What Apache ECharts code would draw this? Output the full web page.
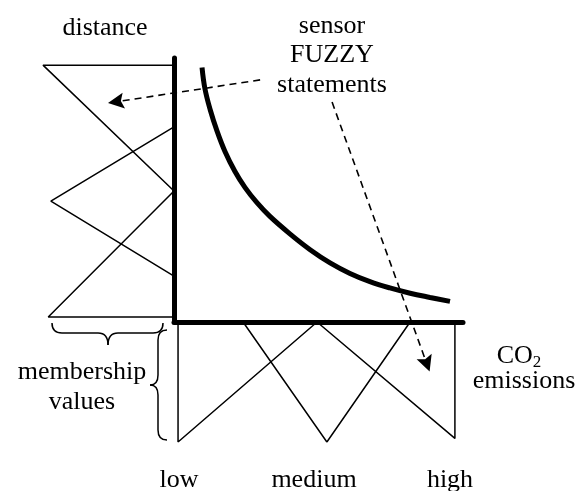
<!DOCTYPE html>
<html>
<head>
<meta charset="utf-8">
<script src="https://cdn.jsdelivr.net/npm/echarts@6/dist/echarts.min.js"></script>
<style>
  html, body { margin: 0; padding: 0; background: #fff; }
  #chart { width: 586px; height: 491px; }
</style>
</head>
<body>
<div id="chart"></div>
<script>
// sensor curve: [co2, distance]
const curve = [
  [9.7, 96.4], [10.7, 88.4], [12.5, 80.5], [14.9, 72.3], [17.6, 64.7],
  [21.1, 57.0], [24.6, 50.9], [28.7, 45.2], [33.2, 40.0], [40.1, 33.4],
  [47.1, 27.4], [54.0, 22.4], [60.9, 18.4], [67.8, 15.3], [74.7, 12.9],
  [81.7, 10.9], [88.6, 9.3], [95.5, 7.8]
]
// distance fuzzy sets: [membership, distance]
const distHigh = [[0, 97.3], [1.0, 97.3], [0, 49.6]]
const distMedium = [[0, 73.9], [0.94, 45.8], [0, 17.4]]
const distLow = [[0, 49.6], [0.96, 1.9], [0, 1.9]]
// CO2 fuzzy sets: [co2, membership]
const co2Low = [[1.4, 0], [1.4, 1], [49.5, 0]]
const co2Medium = [[23.9, 0], [52.9, 1], [81.7, 0]]
const co2High = [[49.5, 0], [97.2, 0.97], [97.2, 0]]
// dashed arrows from the text to the two sets of statements
const arrows = [
  [[29.8, 91.7], [-20.1, 83.4]],
  [[54.7, 83.3], [87.5, -15.9]],
]
const co2Labels = ['low', 'medium', 'high']

const font = '"Liberation Serif", "DejaVu Serif", serif'
const chart = echarts.init(document.getElementById('chart'), null, { renderer: 'canvas' })

const thin = (name, data, x, y) => ({
  name,
  type: 'line',
  xAxisIndex: x,
  yAxisIndex: y,
  data,
  symbol: 'none',
  lineStyle: { color: '#000', width: 1.5 },
  silent: true,
})

const txt = (text, x, y, extra) => ({
  type: 'text',
  x,
  y,
  style: Object.assign({
    text,
    font: '26px ' + font,
    fill: '#000',
    align: 'center',
    verticalAlign: 'middle',
  }, extra || {}),
})

const braceStyle = { stroke: '#000', lineWidth: 1.5, fill: null }
const seg = (x1, y1, x2, y2) => ({ type: 'line', shape: { x1, y1, x2, y2 }, style: braceStyle })
const bend = (x1, y1, cpx1, cpy1, x2, y2) => ({
  type: 'bezierCurve', shape: { x1, y1, cpx1, cpy1, x2, y2 }, style: braceStyle,
})

// curly braces next to the membership axes
const braces = {
  type: 'group',
  children: [
    bend(52, 323, 52, 333, 62, 333), seg(62, 333, 98, 333),
    bend(98, 333, 108, 333, 108, 345), bend(108, 345, 108, 333, 118, 333),
    seg(118, 333, 153, 333), bend(153, 333, 163, 333, 163, 323),
    bend(167, 330, 158, 330, 158, 340), seg(158, 340, 158, 375),
    bend(158, 375, 158, 385, 150, 385), bend(150, 385, 158, 385, 158, 395),
    seg(158, 395, 158, 430), bend(158, 430, 158, 440, 167, 440),
  ],
}

chart.setOption({
  animation: false,
  backgroundColor: '#fff',
  grid: [
    { left: 174, top: 58, width: 289, height: 264 },
    { left: 43, top: 58, width: 131, height: 264 },
    { left: 174, top: 322, width: 289, height: 120 },
  ],
  xAxis: [
    {
      gridIndex: 0, type: 'value', min: 0, max: 100,
      axisLine: { show: true, lineStyle: { color: '#000', width: 5 } },
      axisTick: { show: false }, axisLabel: { show: false }, splitLine: { show: false },
    },
    { gridIndex: 1, type: 'value', min: 0, max: 1, inverse: true, show: false },
    { gridIndex: 2, type: 'value', min: 0, max: 100, show: false },
  ],
  yAxis: [
    {
      gridIndex: 0, type: 'value', min: 0, max: 100,
      axisLine: { show: true, lineStyle: { color: '#000', width: 5 } },
      axisTick: { show: false }, axisLabel: { show: false }, splitLine: { show: false },
    },
    { gridIndex: 1, type: 'value', min: 0, max: 100, show: false },
    { gridIndex: 2, type: 'value', min: 0, max: 1, inverse: true, show: false },
  ],
  series: [
    {
      name: 'sensor',
      type: 'line',
      data: curve,
      smooth: 0.4,
      symbol: 'none',
      lineStyle: { color: '#000', width: 5 },
      silent: true,
    },
    thin('distHigh', distHigh, 1, 1),
    thin('distMedium', distMedium, 1, 1),
    thin('distLow', distLow, 1, 1),
    thin('co2Low', co2Low, 2, 2),
    thin('co2Medium', co2Medium, 2, 2),
    thin('co2High', co2High, 2, 2),
    {
      name: 'arrows',
      type: 'lines',
      coordinateSystem: 'cartesian2d',
      xAxisIndex: 0,
      yAxisIndex: 0,
      clip: false,
      silent: true,
      data: arrows.map(a => ({ coords: a })),
      symbol: ['none', 'path://M5,0L10,16L5,13L0,16Z'],
      symbolSize: [12, 16],
      lineStyle: { color: '#000', width: 1.6, type: [7, 5], opacity: 1 },
      z: 5,
    },
  ],
  graphic: [
    txt('distance', 105, 28),
    txt('sensor', 332, 26),
    txt('FUZZY', 332, 55),
    txt('statements', 332, 85),
    {
      type: 'text', x: 519, y: 356,
      style: {
        text: '{a|CO}{b|2}',
        fill: '#000',
        align: 'center',
        verticalAlign: 'middle',
        rich: {
          a: { font: '26px ' + font, fill: '#000' },
          b: { font: '17px ' + font, fill: '#000', padding: [14, 0, 0, 0] },
        },
      },
    },
    txt('emissions', 524, 381),
    txt('membership', 82, 372),
    txt('values', 82, 402),
    txt(co2Labels[0], 179, 480),
    txt(co2Labels[1], 314, 480),
    txt(co2Labels[2], 450, 480),
    braces,
  ],
})
</script>
</body>
</html>
